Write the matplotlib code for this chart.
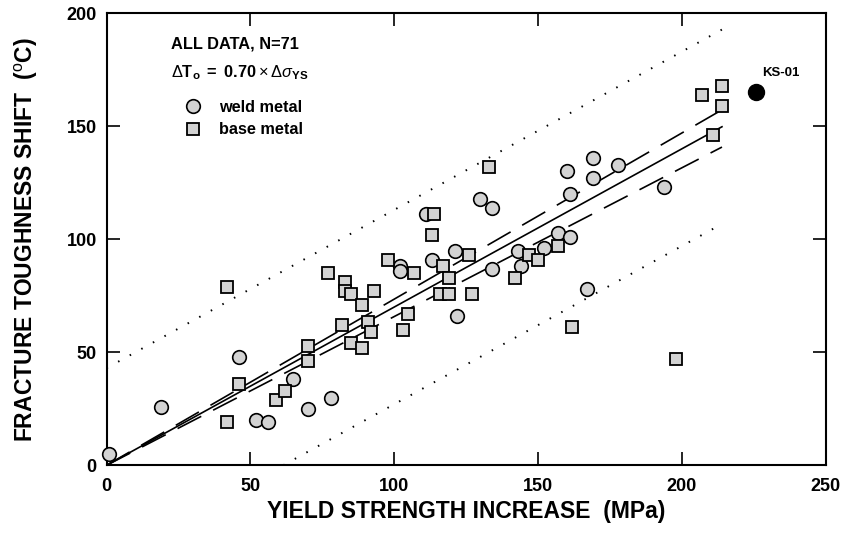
import numpy as np
from matplotlib import pyplot as plt
from matplotlib.lines import Line2D

plt.rcParams['font.family'] = ['Liberation Sans', 'DejaVu Sans']
plt.rcParams['mathtext.fontset'] = 'custom'
plt.rcParams['mathtext.rm'] = 'Liberation Sans'
plt.rcParams['mathtext.bf'] = 'Liberation Sans:bold'
plt.rcParams['mathtext.it'] = 'Liberation Sans:italic'

# weld metal (circles)
weld_x = [1, 19, 46, 52, 56, 65, 70, 78, 102, 102, 113, 121, 122, 134, 111,
          130, 134, 143, 152, 144, 157, 161, 160, 169, 161, 169, 178, 167, 194]
weld_y = [5, 26, 48, 20, 19, 38, 25, 30, 88, 86, 91, 95, 66, 87, 111,
          118, 114, 95, 96, 88, 103, 101, 130, 136, 120, 127, 133, 78, 123]

# base metal (squares)
base_x = [42, 42, 46, 59, 62, 70, 70, 77, 83, 83, 85, 89, 93, 82, 91, 92, 85, 89,
          98, 107, 105, 103, 117, 119, 116, 119, 127, 126, 133, 114, 113, 147, 150,
          142, 157, 162, 198, 207, 214, 214, 211]
base_y = [19, 79, 36, 29, 33, 53, 46, 85, 81, 77, 76, 71, 77, 62, 63.5, 59, 54, 52,
          91, 85, 67, 60, 88, 83, 76, 76, 76, 93, 132, 111, 102, 93, 91,
          83, 97, 61, 47, 164, 168, 159, 146]

ks_x = [226]
ks_y = [165]

slope = 0.70
slope_hi = 0.735
slope_lo = 0.658
scatter_band = 43
x_end = 214

gray = '#d3d3d3'

fig = plt.figure(figsize=(8.44, 5.38), dpi=100)
ax = fig.add_axes([0.1262, 0.1351, 0.8519, 0.8402])

xf = np.array([0, x_end])
ax.plot(xf, slope * xf, color='k', lw=1.2, zorder=2)
ax.plot(xf, slope_hi * xf, color='k', lw=1.2, dashes=(16, 8), zorder=2)
ax.plot(xf, slope_lo * xf, color='k', lw=1.2, dashes=(16, 8), zorder=2)
ax.plot(xf, slope * xf + scatter_band, color='k', lw=1.4, linestyle=(0, (0.8, 6)), zorder=2)
xl = np.array([scatter_band / slope, x_end])
ax.plot(xl, slope * xl - scatter_band, color='k', lw=1.4, linestyle=(0, (0.8, 6)), zorder=2)

ax.plot(weld_x, weld_y, 'o', ms=9.8, mfc=gray, mec='k', mew=1.2, ls='none', zorder=3,
        clip_on=False)
ax.plot(base_x, base_y, 's', ms=8.4, mfc=gray, mec='k', mew=1.3, ls='none', zorder=3)
ax.plot(ks_x, ks_y, 'o', ms=11.5, color='k', ls='none', zorder=3)
ax.text(228.0, 173.7, 'KS-01', fontsize=9.5, fontweight='bold', va='center')

ax.text(22.4, 186.4, 'ALL DATA, N=71', fontsize=11.8, fontweight='bold', va='center')
ax.text(22.4, 173.6,
        r'$\Delta\mathbf{T}_{\mathbf{o}}\ \mathbf{=\ 0.70}\times\Delta\sigma_{\mathbf{YS}}$',
        fontsize=11.8, va='center')

handles = [Line2D([], [], marker='o', ms=9.8, mfc=gray, mec='k', mew=1.2, ls='none'),
           Line2D([], [], marker='s', ms=8.4, mfc=gray, mec='k', mew=1.3, ls='none')]
leg = ax.legend(handles, ['weld metal', 'base metal'], loc='upper left',
                bbox_to_anchor=(0.098, 0.826), frameon=False, handlelength=1.0,
                handletextpad=1.1, labelspacing=0.45, borderpad=0,
                prop={'size': 11.7, 'weight': 'bold'})

ax.set_xlim(0, 250)
ax.set_ylim(0, 200)
ax.set_xticks([0, 50, 100, 150, 200, 250])
ax.set_yticks([0, 50, 100, 150, 200])
ax.tick_params(direction='in', length=9.5, width=1.2, top=True, right=True,
               labelsize=13, pad=7)
ax.tick_params(axis='x', pad=9)
for lab in ax.get_xticklabels() + ax.get_yticklabels():
    lab.set_fontweight('bold')
for sp in ax.spines.values():
    sp.set_linewidth(1.5)

ax.set_xlabel('YIELD STRENGTH INCREASE  (MPa)', fontsize=16.5, fontweight='bold')
ax.xaxis.set_label_coords(0.5, -0.076)
ax.set_ylabel(r'FRACTURE TOUGHNESS SHIFT  ($^{\mathrm{o}}$C)', fontsize=16.5,
              fontweight='bold', labelpad=19)

fig.savefig('out.png', dpi=100)
